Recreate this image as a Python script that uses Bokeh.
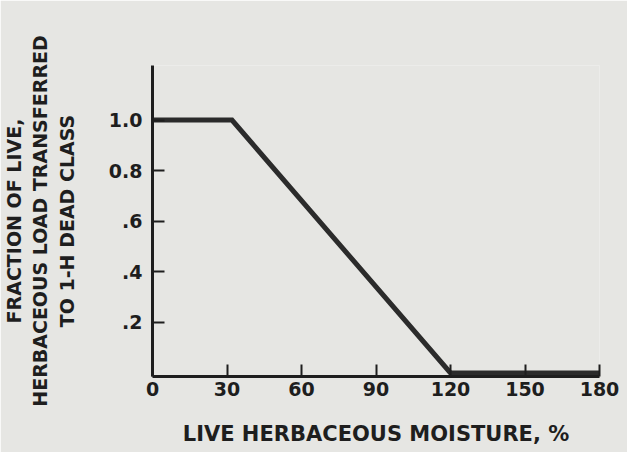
from bokeh.plotting import figure
from bokeh.models import Range1d, FixedTicker
from bokeh.embed import file_html
from bokeh.resources import INLINE

# Data
moisture = [0, 32, 120, 180]          # live herbaceous moisture, %
fraction = [1.0, 1.0, 0.0, 0.0]       # fraction transferred to 1-h dead class

x_ticks = [0, 30, 60, 90, 120, 150, 180]
x_tick_labels = ["0", "30", "60", "90", "120", "150", "180"]
y_ticks = [0.2, 0.4, 0.6, 0.8, 1.0]
y_tick_labels = [".2", ".4", ".6", "0.8", "1.0"]

x_title = "LIVE HERBACEOUS MOISTURE, %"
y_title = "FRACTION OF LIVE,\nHERBACEOUS LOAD TRANSFERRED\nTO 1-H DEAD CLASS"

BG = "#e6e6e3"
INK = "#1e1e1e"
FONT = "DejaVu Sans"

p = figure(width=627, height=452, output_backend="svg", toolbar_location=None,
           x_range=Range1d(0, 180), y_range=Range1d(-0.014, 1.216),
           min_border_left=150, min_border_right=28, min_border_top=65,
           min_border_bottom=76)

p.background_fill_color = BG
p.border_fill_color = BG
p.outline_line_color = None
p.grid.visible = False

p.line(moisture, fraction, line_width=5, line_color="#2b2b2b", line_join="miter")

for ax in (p.xaxis[0], p.yaxis[0]):
    ax.axis_line_width = 3
    ax.axis_line_color = INK
    ax.major_tick_line_color = INK
    ax.major_tick_line_width = 2
    ax.major_tick_in = 12
    ax.major_tick_out = 0
    ax.minor_tick_line_color = None
    ax.major_label_text_font = FONT
    ax.major_label_text_font_style = "bold"
    ax.major_label_text_font_size = "19px"
    ax.major_label_text_color = INK
    ax.axis_label_text_font = FONT
    ax.axis_label_text_font_style = "bold"
    ax.axis_label_text_color = INK

p.xaxis.ticker = FixedTicker(ticks=x_ticks)
p.xaxis.major_label_overrides = {t: l for t, l in zip(x_ticks, x_tick_labels)}
p.xaxis.major_label_standoff = 5
p.xaxis.axis_label = x_title
p.xaxis.axis_label_text_font_size = "21px"
p.xaxis.axis_label_standoff = 23

p.yaxis.ticker = FixedTicker(ticks=y_ticks)
p.yaxis.major_label_overrides = {t: l for t, l in zip(y_ticks, y_tick_labels)}
p.yaxis.major_label_standoff = 10
p.yaxis.axis_label = y_title
p.yaxis.axis_label_text_font_size = "19px"
p.yaxis.axis_label_standoff = 28

open("out.html", "w").write(file_html(p, INLINE))
